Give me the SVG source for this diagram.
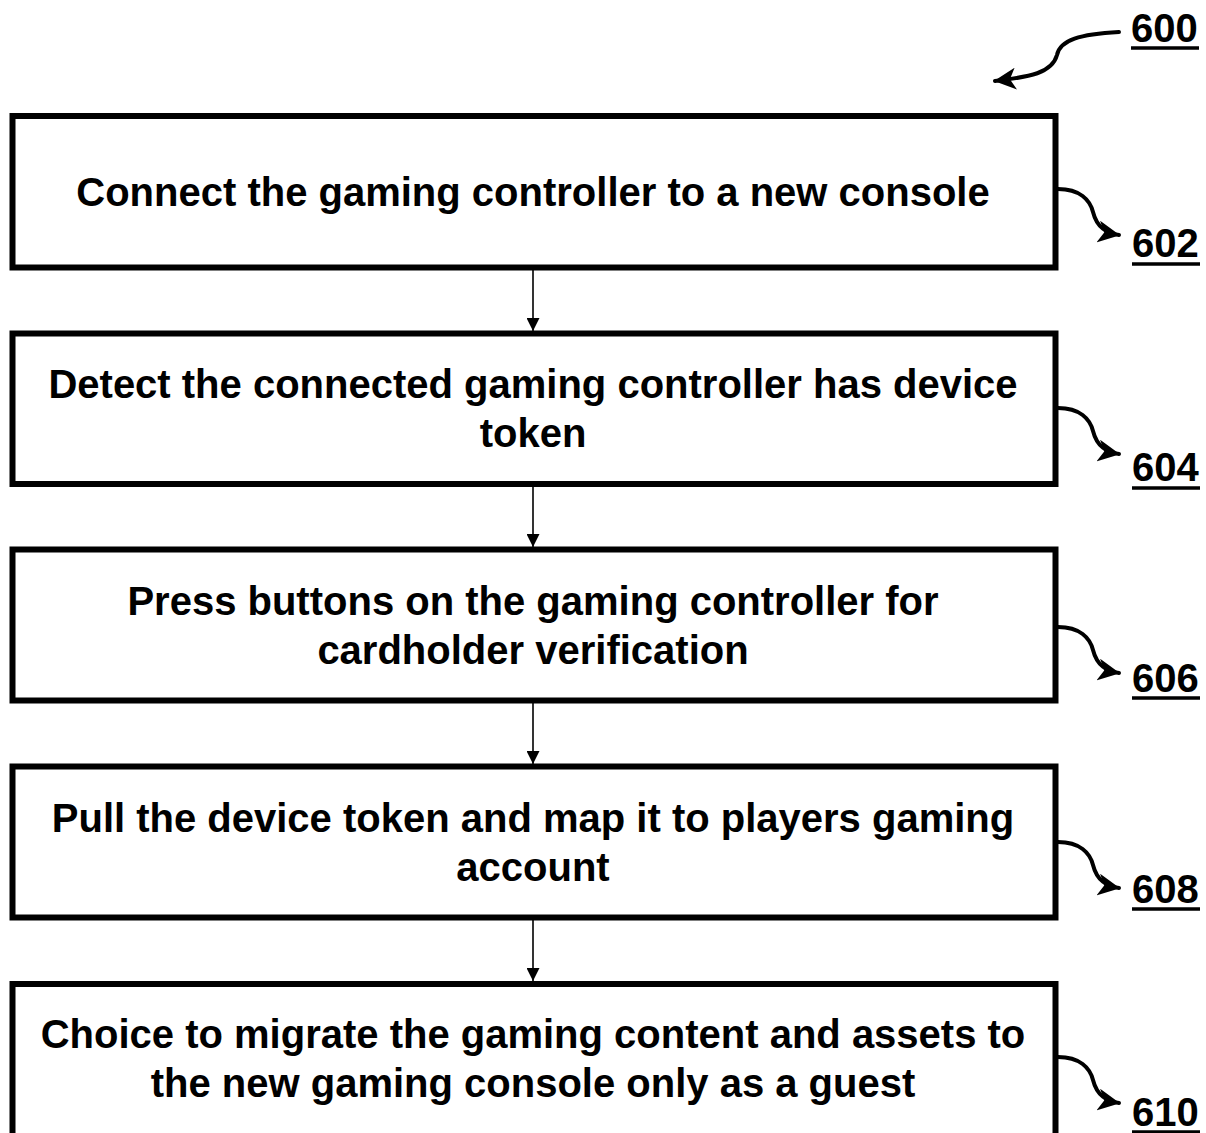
<svg xmlns="http://www.w3.org/2000/svg" width="1206" height="1133" viewBox="0 0 1206 1133">
  <defs>
    <style>
      .box { fill: #ffffff; stroke: #000000; stroke-width: 6; }
      .step { font-family: "Liberation Sans", Arial, sans-serif; font-weight: bold; font-size: 40px; fill: #000000; text-anchor: middle; }
      .ref { font-family: "Liberation Sans", Arial, sans-serif; font-weight: bold; font-size: 40px; fill: #000000; }
      .uline { stroke: #000000; stroke-width: 3.5; }
      .flow { stroke: #000000; stroke-width: 1.6; fill: none; }
      .lead { stroke: #000000; stroke-width: 4; fill: none; stroke-linecap: round; }
    </style>
    <marker id="flowhead" markerUnits="userSpaceOnUse" markerWidth="14" markerHeight="13" refX="13" refY="6.5" orient="auto">
      <path d="M0,0 L13,6.5 L0,13 Z" fill="#000000"/>
    </marker>
    <marker id="leadhead" markerUnits="userSpaceOnUse" markerWidth="24" markerHeight="22" refX="21" refY="11" orient="auto">
      <path d="M0,0 L22,11 L0,22 L6,11 Z" fill="#000000"/>
    </marker>
  </defs>

  <rect width="1206" height="1133" fill="#ffffff"/>

  <!-- figure reference 600 -->
  <g id="fig-600">
    <path class="lead" d="M1119,32 C1080,34 1060,40 1057,55 C1052,73 1030,77 995,81" marker-end="url(#leadhead)"/>
    <text class="ref" x="1131" y="42">600</text>
    <line class="uline" x1="1131" y1="48" x2="1199" y2="48"/>
  </g>

  <!-- connectors between steps -->
  <g id="connectors">
    <line class="flow" x1="533" y1="270" x2="533" y2="331" marker-end="url(#flowhead)"/>
    <line class="flow" x1="533" y1="487" x2="533" y2="547" marker-end="url(#flowhead)"/>
    <line class="flow" x1="533" y1="703" x2="533" y2="764" marker-end="url(#flowhead)"/>
    <line class="flow" x1="533" y1="920" x2="533" y2="981" marker-end="url(#flowhead)"/>
  </g>

  <!-- step 602 -->
  <g id="step-602">
    <rect class="box" x="12.5" y="116" width="1043" height="151.5"/>
    <text class="step" x="533" y="206">Connect the gaming controller to a new console</text>
    <path class="lead" d="M1058,189 C1080,189 1090,200 1093,212 C1097,228 1107,233 1119,235" marker-end="url(#leadhead)"/>
    <text class="ref" x="1132" y="257">602</text>
    <line class="uline" x1="1132" y1="264" x2="1200" y2="264"/>
  </g>

  <!-- step 604 -->
  <g id="step-604">
    <rect class="box" x="12.5" y="333.5" width="1043" height="150.5"/>
    <text class="step" x="533" y="398">Detect the connected gaming controller has device</text>
    <text class="step" x="533" y="447">token</text>
    <path class="lead" d="M1058,408 C1080,408 1090,419 1093,431 C1097,447 1107,452 1119,454" marker-end="url(#leadhead)"/>
    <text class="ref" x="1132" y="481">604</text>
    <line class="uline" x1="1132" y1="488" x2="1200" y2="488"/>
  </g>

  <!-- step 606 -->
  <g id="step-606">
    <rect class="box" x="12.5" y="549.5" width="1043" height="151"/>
    <text class="step" x="533" y="615">Press buttons on the gaming controller for</text>
    <text class="step" x="533" y="664">cardholder verification</text>
    <path class="lead" d="M1058,627 C1080,627 1090,638 1093,650 C1097,666 1107,671 1119,673" marker-end="url(#leadhead)"/>
    <text class="ref" x="1132" y="692">606</text>
    <line class="uline" x1="1132" y1="698" x2="1200" y2="698"/>
  </g>

  <!-- step 608 -->
  <g id="step-608">
    <rect class="box" x="12.5" y="766.5" width="1043" height="151"/>
    <text class="step" x="533" y="832">Pull the device token and map it to players gaming</text>
    <text class="step" x="533" y="881">account</text>
    <path class="lead" d="M1058,842 C1080,842 1090,853 1093,865 C1097,881 1107,886 1119,888" marker-end="url(#leadhead)"/>
    <text class="ref" x="1132" y="903">608</text>
    <line class="uline" x1="1132" y1="909" x2="1200" y2="909"/>
  </g>

  <!-- step 610 -->
  <g id="step-610">
    <rect class="box" x="12.5" y="984" width="1043" height="160"/>
    <text class="step" x="533" y="1048">Choice to migrate the gaming content and assets to</text>
    <text class="step" x="533" y="1097">the new gaming console only as a guest</text>
    <path class="lead" d="M1058,1057 C1080,1057 1090,1068 1093,1080 C1097,1096 1107,1101 1119,1103" marker-end="url(#leadhead)"/>
    <text class="ref" x="1132" y="1126">610</text>
    <line class="uline" x1="1132" y1="1132" x2="1200" y2="1132"/>
  </g>
</svg>
